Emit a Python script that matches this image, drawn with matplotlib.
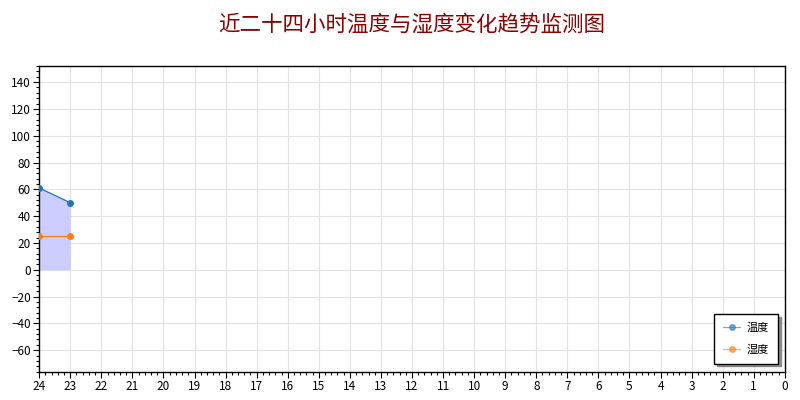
import matplotlib
matplotlib.use("Agg")
import matplotlib.pyplot as plt
from matplotlib.ticker import MultipleLocator

plt.rcParams["font.family"] = ["Noto Sans CJK SC", "DejaVu Sans"]

TITLE = "近二十四小时温度与湿度变化趋势监测图"
HOURS = [24, 23]
SERIES_A = [61, 50]
SERIES_B = [25, 25]
LABEL_A = "温度"
LABEL_B = "湿度"

BLUE = "#1f77b4"
ORANGE = "#ff7f0e"
FILL = "#ccccff"
GRID = "#e3e3e3"


def main() -> None:
    fig = plt.figure(figsize=(8, 4), dpi=100)
    ax = fig.add_axes([0.049, 0.071, 0.932, 0.764])

    ax.fill_between(HOURS, 0, SERIES_A, color=FILL, linewidth=0, zorder=1)
    ax.plot(HOURS, SERIES_A, color=BLUE, lw=0.9, marker="o", ms=4,
            label=LABEL_A, zorder=3)
    ax.plot(HOURS, SERIES_B, color=ORANGE, lw=0.9, marker="o", ms=4,
            label=LABEL_B, zorder=3)

    ax.set_xlim(24, 0)
    ax.set_ylim(-76, 152)
    ax.xaxis.set_major_locator(MultipleLocator(1))
    ax.xaxis.set_minor_locator(MultipleLocator(0.2))
    ax.yaxis.set_minor_locator(MultipleLocator(4))
    ax.set_yticks(range(-60, 141, 20))
    ax.tick_params(which="major", length=4, width=0.8, labelsize=8.5, pad=2,
                   colors="black")
    ax.tick_params(which="minor", length=2, width=0.8)
    ax.grid(True, which="major", color=GRID, lw=0.8, zorder=0)
    ax.set_axisbelow(True)
    for s in ax.spines.values():
        s.set_linewidth(1.0)

    leg = ax.legend(loc="lower right", fontsize=8, frameon=True, fancybox=False,
                    shadow={"color": "#777777", "alpha": 0.8},
                    edgecolor="black", framealpha=1,
                    borderpad=0.8, handlelength=1.5, handletextpad=0.6,
                    labelspacing=1.0, bbox_to_anchor=(0.998, 0.008))
    leg.get_frame().set_linewidth(1.0)
    for line in leg.get_lines():
        line.set_alpha(0.6)

    fig.text(0.514, 0.937, TITLE, ha="center", va="center",
             fontsize=15.5, color="#8B0000")

    fig.savefig("out.png", dpi=100, facecolor="white")


if __name__ == "__main__":
    main()
